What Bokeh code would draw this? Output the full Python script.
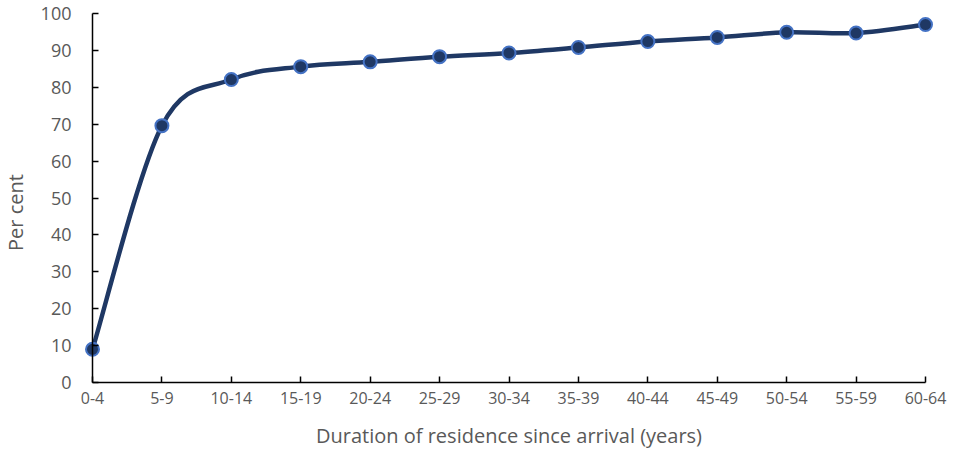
import numpy as np
from bokeh.plotting import figure
from bokeh.models import Range1d, FixedTicker, Label
from bokeh.embed import file_html
from bokeh.resources import INLINE

categories = ["0-4", "5-9", "10-14", "15-19", "20-24", "25-29", "30-34",
              "35-39", "40-44", "45-49", "50-54", "55-59", "60-64"]
values = [9.0, 69.6, 82.1, 85.6, 86.9, 88.3, 89.3, 90.8, 92.4, 93.5, 94.9, 94.7, 97.0]
y_ticks = list(range(0, 101, 10))
x_title = "Duration of residence since arrival (years)"
y_title = "Per cent"

FONT = "Open Sans"
LINE = "#1F3864"
EDGE = "#4472C4"
GREY = "#595959"

W, H = 947, 450
n = len(categories)
x = np.arange(n, dtype=float)
y = np.array(values, dtype=float)

# geometry (canvas px): x=0 -> 92, x=n-1 -> 925 ; y=0 -> 382, y=100 -> 13
X0, X1 = 92, 925
Y0, Y100 = 382, 13
ppu_x = (X1 - X0) / (n - 1)
ppu_y = (Y0 - Y100) / 100.0
x_start = -X0 / ppu_x
x_end = (n - 1) + (W - X1) / ppu_x
y_start = -(H - Y0) / ppu_y
y_end = 100 + Y100 / ppu_y

p = figure(width=W, height=H, output_backend="svg", toolbar_location=None,
           x_range=Range1d(x_start, x_end),
           y_range=Range1d(y_start, y_end),
           min_border_left=0, min_border_right=0, min_border_top=0,
           min_border_bottom=0)
p.outline_line_color = None
p.grid.visible = False
p.background_fill_color = "white"
p.border_fill_color = "white"

# Smoothed line (Catmull-Rom style bezier through the data points)
xp = np.concatenate([[x[0]], x, [x[-1]]])
yp = np.concatenate([[y[0]], y, [y[-1]]])
x0, y0 = x[:-1], y[:-1]
x1, y1 = x[1:], y[1:]
cx0 = xp[1:-2] + (xp[2:-1] - xp[:-3]) / 6.0
cy0 = yp[1:-2] + (yp[2:-1] - yp[:-3]) / 6.0
cx1 = xp[2:-1] - (xp[3:] - xp[1:-2]) / 6.0
cy1 = yp[2:-1] - (yp[3:] - yp[1:-2]) / 6.0
p.bezier(x0=x0, y0=y0, x1=x1, y1=y1, cx0=cx0, cy0=cy0, cx1=cx1, cy1=cy1,
         line_color=LINE, line_width=4.5)
p.scatter(x, y, size=13, fill_color=LINE, line_color=EDGE, line_width=2)

# Axes
p.xaxis.ticker = FixedTicker(ticks=list(x))
p.xaxis.major_label_overrides = {i: c for i, c in enumerate(categories)}
p.xaxis.bounds = (0, n - 1)
p.xaxis.fixed_location = 0
p.yaxis.ticker = FixedTicker(ticks=y_ticks)
p.yaxis.bounds = (0, 100)
p.yaxis.fixed_location = 0

for ax in (p.xaxis, p.yaxis):
    ax.axis_line_color = "black"
    ax.axis_line_width = 1.5
    ax.major_tick_line_color = "black"
    ax.major_tick_line_width = 1.5
    ax.major_tick_in = 6
    ax.major_tick_out = 0
    ax.minor_tick_line_color = None
    ax.major_label_text_font = FONT
    ax.major_label_text_color = GREY

p.xaxis.major_label_text_font_size = "16px"
p.yaxis.major_label_text_font_size = "18px"
p.xaxis.major_label_standoff = 9
p.yaxis.major_label_standoff = 21

# Axis titles
p.add_layout(Label(x=(n - 1) / 2, y=-(435 - Y0) / ppu_y, text=x_title,
                   text_font=FONT, text_font_size="20px", text_color=GREY,
                   text_align="center", text_baseline="middle"))
p.add_layout(Label(x=(15 - X0) / ppu_x, y=(Y0 - 212) / ppu_y, text=y_title,
                   angle=np.pi / 2, text_font=FONT, text_font_size="20px",
                   text_color=GREY, text_align="center", text_baseline="middle"))

open("out.html", "w").write(file_html(p, INLINE))
